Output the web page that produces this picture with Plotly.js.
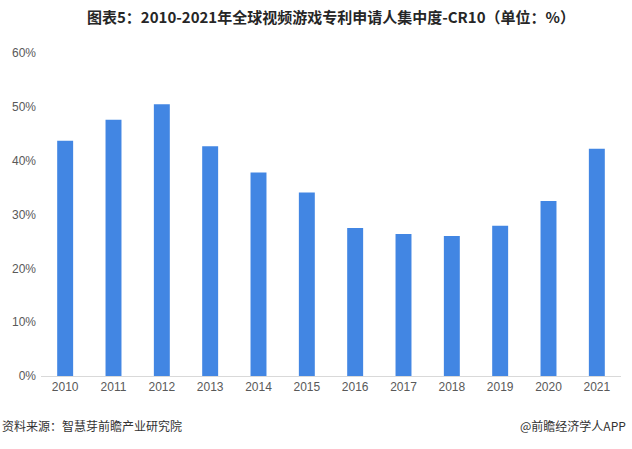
<!DOCTYPE html>
<html><head><meta charset="utf-8">
<script src="https://cdn.plot.ly/plotly-3.0.1.min.js"></script>
<style>html,body{margin:0;padding:0;background:#fff;}#chart{width:632px;height:449px;}</style>
</head><body><div id="chart"></div>
<script>
const years = ['2010','2011','2012','2013','2014','2015','2016','2017','2018','2019','2020','2021'];
const cr10 = [43.7, 47.6, 50.5, 42.7, 37.8, 34.1, 27.5, 26.4, 26.0, 27.9, 32.5, 42.2];
const yTicks = [0, 10, 20, 30, 40, 50, 60];
const titleText = '图表5：2010-2021年全球视频游戏专利申请人集中度-CR10（单位：%）';
const sourceText = '资料来源：智慧芽前瞻产业研究院';
const brandText = '@前瞻经济学人APP';

const font = '"Liberation Sans", Arial, "Noto Sans CJK SC", sans-serif';
const trace = {
  type: 'bar', x: years, y: cr10,
  marker: {color: '#4286E3'},
  hoverinfo: 'x+y'
};
const layout = {
  width: 632, height: 449,
  margin: {l: 41, r: 11, t: 53, b: 73},
  paper_bgcolor: '#fff', plot_bgcolor: '#fff',
  bargap: 0.67,
  showlegend: false,
  font: {family: font, color: '#595959', size: 12},
  title: {
    text: '<b>' + titleText + '</b>',
    font: {family: '"Noto Sans CJK SC", sans-serif', size: 15, color: '#262626'},
    x: 0.5, xanchor: 'center', xref: 'paper',
    y: 1 - 18/449, yref: 'container', yanchor: 'middle'
  },
  xaxis: {
    type: 'category', showgrid: false, zeroline: false,
    showline: true, linecolor: '#D9D9D9', linewidth: 1,
    ticks: '', tickfont: {size: 12, color: '#595959'}
  },
  yaxis: {
    range: [0, 60], tickvals: yTicks, ticktext: yTicks.map(v => v + '%'),
    showgrid: false, zeroline: false, showline: false, ticks: '',
    tickfont: {size: 12, color: '#595959'}, ticklabelstandoff: 4
  },
  annotations: [
    {text: sourceText, xref: 'paper', yref: 'paper', x: -41/580, y: -49/323,
     xanchor: 'left', yanchor: 'middle', showarrow: false,
     font: {family: '"Noto Sans CJK SC", sans-serif', size: 12, color: '#333'}},
    {text: brandText, xref: 'paper', yref: 'paper', x: 1 + 7/580, y: -49/323,
     xanchor: 'right', yanchor: 'middle', showarrow: false,
     font: {family: '"Noto Sans CJK SC", sans-serif', size: 12, color: '#333'}}
  ]
};
Plotly.newPlot('chart', [trace], layout, {displayModeBar: false, staticPlot: true});
</script></body></html>
